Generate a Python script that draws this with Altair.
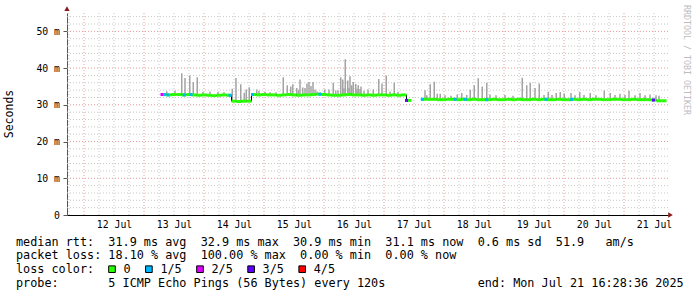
import altair as alt
import pandas as pd

FONT = "DejaVu Sans Mono"
NB = "\u00a0"

# ---- axes (time in hours after 12 Jul 00:00, values in ms) ----
X_START_H = -6.8
X_END_H = 233.6
Y_MAX_MS = 55

DAY_NOON_HOURS = [12, 36, 60, 84, 108, 132, 156, 180, 204, 228]
DAY_LABELS = ["12 Jul", "13 Jul", "14 Jul", "15 Jul", "16 Jul",
              "17 Jul", "18 Jul", "19 Jul", "20 Jul", "21 Jul"]
Y_TICKS = [0, 10, 20, 30, 40, 50]
Y_TICK_LABELS = ["0  ", "10 m", "20 m", "30 m", "40 m", "50 m"]

MINOR_V_GRID_H = [h for h in range(-6, 234, 6) if h % 24]
MAJOR_V_GRID_H = list(range(0, 234, 24))
MINOR_H_GRID_MS = [v for v in range(2, 55, 2) if v % 10]
MAJOR_H_GRID_MS = list(range(10, 55, 10))

# ---- median rtt, one value every 2 h starting 13 Jul 07:00 ----
MEDIAN_START_H = 31
MEDIAN_STEP_H = 2
MEDIAN_MS = [
    32.8, 32.7, 32.8, 32.8, 32.7, 32.8, 32.7, 32.6, 32.7, 32.6, 32.5, 32.6, 32.7, 32.6,
    31.0, 30.9, 31.0, 31.0,
    32.8, 32.7, 32.8, 32.7, 32.7, 32.6, 32.7, 32.8, 32.7, 32.6,
    32.7, 32.7, 32.8, 32.9, 32.8, 32.7, 32.6, 32.6, 32.7, 32.8,
    32.7, 32.7, 32.6, 32.7, 32.6, 32.7, 32.7, 32.6, 32.7, 32.6, 32.7,
    31.2,
    None, None,
    31.5, 31.5, 31.5, 31.4, 31.4, 31.5, 31.5, 31.4, 31.5, 31.4,
    31.5, 31.4, 31.4, 31.4, 31.5, 31.4, 31.4, 31.5, 31.4, 31.5,
    31.4, 31.4, 31.5, 31.4, 31.5, 31.4, 31.4, 31.5, 31.4, 31.4,
    31.5, 31.4, 31.5, 31.4, 31.5, 31.5, 31.4, 31.4, 31.5, 31.5,
    31.4, 31.4, 31.5, 31.4, 31.4, 31.4, 31.3,
    31.1, 31.1,
]

# ---- smoke (max rtt spikes) ----
SPIKE_HOURS = [
    33.1, 36.4, 39.1, 40.4, 42.3, 43.7, 45.3, 47.6, 50.4, 53.6, 56.0,
    59.3, 60.8, 62.7, 64.1, 64.9, 66.1,
    69.1, 70.0, 72.4, 74.4, 76.8, 79.7, 81.3, 82.7, 83.5, 85.1, 85.8, 86.4, 87.5, 88.4,
    89.2, 90.0, 90.8, 91.6, 92.4, 93.2, 96.3, 98.0, 99.7, 100.7, 101.6, 102.7, 103.5,
    104.0, 104.5, 105.5, 106.0, 106.4, 107.1, 107.7, 108.7, 109.2, 109.7, 110.4, 110.8,
    112.0, 113.6, 115.7, 117.9, 119.2, 120.9, 122.4, 124.1, 125.6,
    136.4, 137.1, 138.5, 140.1, 141.3, 142.5, 144.4, 146.8, 149.3, 151.1, 153.1, 154.5,
    156.1, 157.7, 159.3, 161.1, 162.4, 164.8, 168.4, 171.6, 175.3, 177.1, 178.5, 180.4,
    182.1, 184.0, 185.7, 187.2, 188.9, 190.5, 192.1, 194.8, 196.4, 198.3, 200.0, 202.5,
    204.8, 208.1, 210.5, 212.4, 214.4, 216.4, 218.0, 220.4, 222.4, 224.4, 226.4, 228.8, 230.0,
]
SPIKE_TOP_MS = [
    33.7, 33.8, 38.6, 37.3, 38.0, 36.2, 37.5, 33.5, 33.6, 33.5, 33.4,
    34.4, 37.3, 35.6, 33.3, 34.2, 34.8,
    34.2, 33.8, 33.5, 33.4, 33.4, 37.5, 35.3, 35.0, 35.6, 34.6, 34.0, 36.9, 34.7, 34.6,
    35.8, 36.2, 35.1, 36.2, 34.2, 33.6, 34.2, 34.2, 36.0, 33.9, 34.0, 37.5, 36.9,
    34.5, 42.4, 36.6, 34.6, 37.8, 35.3, 36.2, 35.7, 34.4, 35.3, 34.3, 35.0,
    33.8, 34.2, 34.2, 37.0, 35.8, 38.0, 33.6, 36.1, 33.5,
    34.0, 32.6, 35.6, 36.3, 33.0, 33.0, 32.6, 32.5, 32.8, 33.2, 32.7, 34.1,
    35.3, 37.2, 35.0, 36.0, 32.8, 32.6, 32.7, 32.5, 37.4, 35.3, 36.0, 34.6,
    35.8, 32.7, 33.5, 32.7, 33.2, 33.5, 33.1, 33.2, 32.6, 33.5, 32.7, 33.2,
    32.6, 33.9, 33.2, 32.7, 33.0, 32.7, 33.8, 32.6, 33.2, 32.6, 32.8, 32.6, 32.5,
]

# ---- packet loss markers on the median line ----
LOSS_HOURS = [31.2, 32.2, 33.6, 40.1, 42.8, 58.4, 67.4, 94.4, 129.0,
              135.3, 148.4, 152.5, 161.1, 184.8, 195.1, 227.8]
LOSS_CLASS = ["2/5", "1/5", "1/5", "1/5", "1/5", "1/5", "1/5", "1/5", "3/5",
              "1/5", "1/5", "1/5", "1/5", "1/5", "1/5", "3/5"]
LOSS_DOMAIN = ["0", "1/5", "2/5", "3/5", "4/5"]
LOSS_COLORS = ["#26ff00", "#00b8ff", "#dd00ff", "#5e00ff", "#ff0000"]

LINE1 = "median rtt:  31.9 ms avg  32.9 ms max  30.9 ms min  31.1 ms now  0.6 ms sd  51.9   am/s"
LINE2 = "packet loss: 18.10 % avg  100.00 % max  0.00 % min  0.00 % now"
LINE3 = "loss color:"
LINE4 = "probe:       5 ICMP Echo Pings (56 Bytes) every 120s" + " " * 13 + "end: Mon Jul 21 16:28:36 2025"
WATERMARK = "RRDTOOL / TOBI OETIKER"
Y_TITLE = "Seconds"

# legend layout (pixels, relative to plot origin)
TEXT_X = -51
CHAR_W = 7.1
SWATCH_X0 = 45.0
SWATCH_STEP = 29.8
LABEL_GAP = 11.5
ROW_Y = [228.7, 242.3, 256.2, 270.0]


def label_expr(values, labels):
    expr = "''"
    for v, lab in reversed(list(zip(values, labels))):
        lab = lab.replace(" ", NB)
        expr = f"datum.value == {v} ? '{lab}' : ({expr})"
    return expr


def median_at(h):
    i = int((h - MEDIAN_START_H) // MEDIAN_STEP_H)
    i = max(0, min(len(MEDIAN_MS) - 1, i))
    return MEDIAN_MS[i]


# ---- tables ----
med_rows = []
seg = 0
for i, v in enumerate(MEDIAN_MS):
    if v is None:
        seg += 1
        continue
    h = MEDIAN_START_H + i * MEDIAN_STEP_H
    med_rows.append({"h": h, "h2": h + MEDIAN_STEP_H, "v": v, "seg": seg})
med_df = pd.DataFrame(med_rows)

spike_df = pd.DataFrame({"h": SPIKE_HOURS, "v": SPIKE_TOP_MS,
                         "base": [median_at(h) for h in SPIKE_HOURS]})
loss_df = pd.DataFrame({"h": LOSS_HOURS, "v": [median_at(h) for h in LOSS_HOURS],
                        "loss": LOSS_CLASS})

leg_rows = []
px = SWATCH_X0
for lab in LOSS_DOMAIN:
    leg_rows.append({"loss": lab, "px": px, "lx": px + LABEL_GAP, "py": ROW_Y[2]})
    px += SWATCH_STEP + CHAR_W * len(lab)
leg_df = pd.DataFrame(leg_rows)

x_scale = alt.Scale(domain=[X_START_H, X_END_H], nice=False, zero=False)
y_scale = alt.Scale(domain=[0, Y_MAX_MS], nice=False, zero=True)
color_scale = alt.Scale(domain=LOSS_DOMAIN, range=LOSS_COLORS)

x_axis = alt.Axis(values=DAY_NOON_HOURS, labelExpr=label_expr(DAY_NOON_HOURS, DAY_LABELS),
                  title=None, grid=False, ticks=False, tickSize=0, domainColor="#000000",
                  labelFont=FONT, labelFontSize=9.8, labelColor="#000000",
                  labelPadding=9, labelBaseline="middle", labelFlush=False, labelOverlap=False)
y_axis = alt.Axis(values=Y_TICKS, labelExpr=label_expr(Y_TICKS, Y_TICK_LABELS),
                  title=None, grid=False, tickSize=4, tickColor="#555555",
                  domainColor="#555555", labelFont=FONT, labelFontSize=9.8,
                  labelColor="#000000", labelPadding=3.5, labelFlush=False, labelOverlap=False)


def X(field="h"):
    return alt.X(f"{field}:Q", scale=x_scale, axis=x_axis)


def Y(field="v"):
    return alt.Y(f"{field}:Q", scale=y_scale, axis=y_axis)


minor_v = alt.Chart(pd.DataFrame({"h": MINOR_V_GRID_H})).mark_rule(
    color="#c8c8c8", strokeDash=[1, 2], strokeWidth=1).encode(x=X())
major_v = alt.Chart(pd.DataFrame({"h": MAJOR_V_GRID_H})).mark_rule(
    color="#e89a9a", strokeDash=[1, 2], strokeWidth=1).encode(x=X())
minor_h = alt.Chart(pd.DataFrame({"v": MINOR_H_GRID_MS})).mark_rule(
    color="#c8c8c8", strokeDash=[1, 2], strokeWidth=1).encode(y=Y())
major_h = alt.Chart(pd.DataFrame({"v": MAJOR_H_GRID_MS})).mark_rule(
    color="#e89a9a", strokeDash=[1, 2], strokeWidth=1).encode(y=Y())

smoke = alt.Chart(spike_df).mark_rule(color="#a3a3a3", strokeWidth=1.5).encode(
    x=X(), y=Y(), y2="base:Q")

black_line = alt.Chart(med_df).mark_line(color="#000000", strokeWidth=1,
                                         interpolate="step-after").encode(
    x=X(), y=Y(), detail="seg:N")

median = alt.Chart(med_df).mark_rule(color="#26ff00", strokeWidth=3, strokeCap="butt").encode(
    x=X(), x2="h2:Q", y=Y())

loss = alt.Chart(loss_df).mark_square(size=9, opacity=1, strokeWidth=0).encode(
    x=X(), y=Y(), color=alt.Color("loss:N", scale=color_scale, legend=None))

arrow_up = alt.Chart(pd.DataFrame({"h": [X_START_H], "v": [Y_MAX_MS + 1.2]})).mark_point(
    shape="triangle-up", filled=True, size=28, color="#8b1a1a", opacity=1).encode(x=X(), y=Y())
arrow_right = alt.Chart(pd.DataFrame({"h": [X_END_H + 1.0], "v": [0]})).mark_point(
    shape="triangle-right", filled=True, size=28, color="#8b1a1a", opacity=1).encode(x=X(), y=Y())

# loss colour legend (drawn as a guide in pixel space)
leg_swatch = alt.Chart(leg_df).mark_square(size=44, opacity=1, stroke="#000000",
                                           strokeWidth=1, filled=True).encode(
    x=alt.X("px:Q", scale=None, axis=None), y=alt.Y("py:Q", scale=None, axis=None),
    fill=alt.Fill("loss:N", scale=color_scale, legend=None))
leg_label = alt.Chart(leg_df).mark_text(font=FONT, fontSize=11.8, align="left",
                                        baseline="middle", color="#000000").encode(
    x=alt.X("lx:Q", scale=None, axis=None), y=alt.Y("py:Q", scale=None, axis=None),
    text="loss:N")


def text_layer(s, x, y, **kw):
    return alt.Chart(pd.DataFrame({"t": [s.replace(" ", NB)]})).mark_text(
        font=FONT, **kw).encode(text="t:N", x=alt.value(x), y=alt.value(y))


row_kw = dict(align="left", baseline="middle", fontSize=11.8, color="#000000")
t1 = text_layer(LINE1, TEXT_X, ROW_Y[0], **row_kw)
t2 = text_layer(LINE2, TEXT_X, ROW_Y[1], **row_kw)
t3 = text_layer(LINE3, TEXT_X, ROW_Y[2], **row_kw)
t4 = text_layer(LINE4, TEXT_X, ROW_Y[3], **row_kw)
ytitle = text_layer(Y_TITLE, -57, 101, align="center", baseline="middle", fontSize=11.5,
                    color="#000000", angle=270)
wm = text_layer(WATERMARK, 619, 47, align="center", baseline="middle", fontSize=8.3,
                color="#bdbdbd", angle=90)

chart = alt.layer(
    minor_v, major_v, minor_h, major_h, smoke, black_line, median, loss,
    arrow_up, arrow_right, t1, t2, t3, t4, leg_swatch, leg_label, ytitle, wm,
).properties(
    width=601, height=202,
    padding={"left": 67, "top": 13, "right": 29, "bottom": 82},
    autosize=alt.AutoSizeParams(type="none"),
    background="#ffffff",
).resolve_scale(x="shared", y="shared").configure_view(stroke=None)

chart.save("out.html", embed_options={"renderer": "svg", "actions": False})
